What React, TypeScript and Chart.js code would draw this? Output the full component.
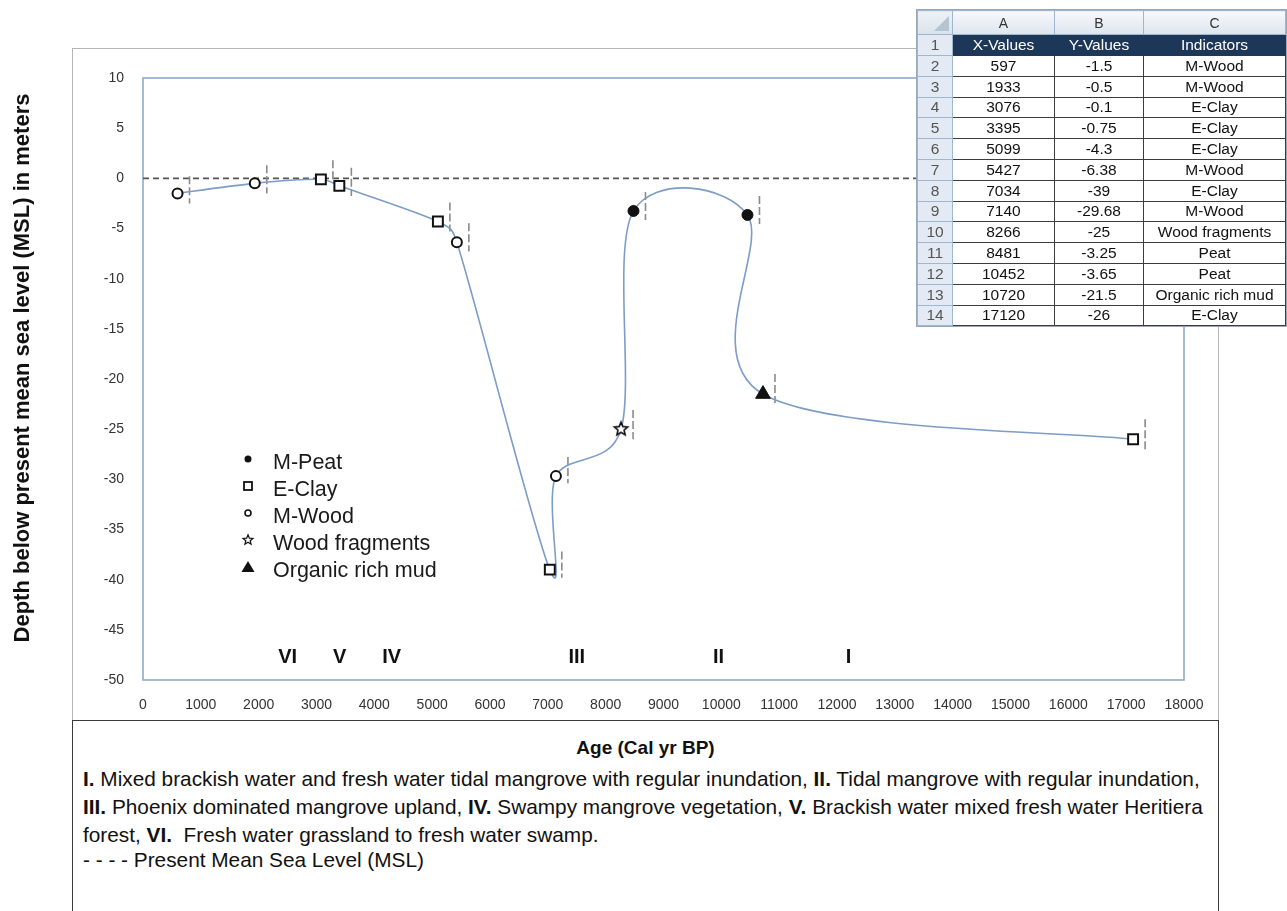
import React, { useEffect, useRef } from "react";
import { Chart, registerables } from "chart.js";

Chart.register(...registerables);

// ---------------- data ----------------
const ageValues = [597, 1933, 3076, 3395, 5099, 5427, 7034, 7140, 8266, 8481, 10452, 10720, 17120];
const depthValues = [-1.5, -0.5, -0.1, -0.75, -4.3, -6.38, -39, -29.68, -25, -3.25, -3.65, -21.5, -26];
const indicatorValues = [
  "M-Wood", "M-Wood", "E-Clay", "E-Clay", "E-Clay", "M-Wood", "E-Clay",
  "M-Wood", "Wood fragments", "Peat", "Peat", "Organic rich mud", "E-Clay",
];
// dashed error bars (metres above / below each point)
const errorAbove = [1.7, 1.8, 1.9, 1.8, 1.9, 1.9, 1.8, 1.9, 1.9, 1.9, 1.9, 2.0, 2.0];
const errorBelow = [1.0, 1.0, 0.4, 1.0, 1.0, 0.9, 0.8, 0.7, 1.0, 0.9, 0.9, 0.9, 1.0];

const legendLabels = ["M-Peat", "E-Clay", "M-Wood", "Wood fragments", "Organic rich mud"];
const legendKinds = ["Peat", "E-Clay", "M-Wood", "Wood fragments", "Organic rich mud"];

const zoneLabels = ["VI", "V", "IV", "III", "II", "I"];
const zoneAges = [2500, 3400, 4300, 7500, 9950, 12200];
const zoneDepth = -47.8;

const mslDepth = 0;
const xMin = 0, xMax = 18000, xStep = 1000;
const yMin = -50, yMax = 10, yStep = 5;

const tableHeaders = ["X-Values", "Y-Values", "Indicators"];
const tableColumnLetters = ["A", "B", "C"];

const yTitle = "Depth below present mean sea level (MSL) in meters";
const xTitle = "Age (Cal yr BP)";

// ---------------- styles ----------------
const FONT = 'Arial, "Liberation Sans", sans-serif';
const LINE_COLOR = "#7d9dc7";
const FRAME_COLOR = "#8eaacb";

function starPath(g: CanvasRenderingContext2D, cx: number, cy: number, outer: number, inner: number) {
  g.beginPath();
  for (let i = 0; i < 10; i++) {
    const r = i % 2 ? inner : outer;
    const a = -Math.PI / 2 + (i * Math.PI) / 5;
    const px = cx + r * Math.cos(a);
    const py = cy + r * Math.sin(a);
    if (i === 0) g.moveTo(px, py);
    else g.lineTo(px, py);
  }
  g.closePath();
}

function makeStar(size: number, outer: number, inner: number, lw: number) {
  const c = document.createElement("canvas");
  c.width = size;
  c.height = size;
  const g = c.getContext("2d")!;
  starPath(g, size / 2, size / 2, outer, inner);
  g.fillStyle = "#fff";
  g.fill();
  g.lineWidth = lw;
  g.strokeStyle = "#111";
  g.stroke();
  return c;
}

function markerFor(kind: string, star: HTMLCanvasElement) {
  switch (kind) {
    case "M-Wood":
      return { style: "circle" as any, r: 5, fill: "#fff", lw: 2 };
    case "E-Clay":
      return { style: "rect" as any, r: 7, fill: "#fff", lw: 2 };
    case "Peat":
      return { style: "circle" as any, r: 5.5, fill: "#111", lw: 1 };
    case "Organic rich mud":
      return { style: "triangle" as any, r: 8.5, fill: "#111", lw: 1 };
    default:
      return { style: star as any, r: 6, fill: "#fff", lw: 1.5 };
  }
}

function drawLegendSymbol(g: CanvasRenderingContext2D, kind: string, x: number, y: number) {
  g.save();
  g.strokeStyle = "#111";
  g.fillStyle = "#111";
  g.setLineDash([]);
  if (kind === "Peat") {
    g.beginPath();
    g.arc(x, y, 3.5, 0, Math.PI * 2);
    g.fill();
  } else if (kind === "E-Clay") {
    g.lineWidth = 1.8;
    g.strokeRect(x - 4, y - 4, 8, 8);
  } else if (kind === "M-Wood") {
    g.lineWidth = 1.6;
    g.beginPath();
    g.arc(x, y, 3, 0, Math.PI * 2);
    g.stroke();
  } else if (kind === "Wood fragments") {
    g.lineWidth = 1.2;
    starPath(g, x, y, 5.2, 2.3);
    g.stroke();
  } else {
    g.beginPath();
    g.moveTo(x, y - 6);
    g.lineTo(x + 6.5, y + 5);
    g.lineTo(x - 6.5, y + 5);
    g.closePath();
    g.fill();
  }
  g.restore();
}

// Excel-style smoothing: Catmull-Rom control points (1/6 of neighbour span),
// each control arm limited to half of its own segment length.
const smoothPlugin = {
  id: "excelSmooth",
  beforeDatasetsDraw(chart: any) {
    const meta = chart.getDatasetMeta(0);
    const line: any = meta.dataset;
    if (!line) return;
    if (typeof line.updateControlPoints === "function") line.updateControlPoints(chart.chartArea, "x");
    const pts = meta.data as any[];
    const n = pts.length;
    for (let i = 0; i < n; i++) {
      const p = pts[i];
      const prev = pts[Math.max(0, i - 1)];
      const next = pts[Math.min(n - 1, i + 1)];
      const tx = (next.x - prev.x) / 6;
      const ty = (next.y - prev.y) / 6;
      const tl = Math.hypot(tx, ty) || 1;
      const dPrev = Math.hypot(p.x - prev.x, p.y - prev.y);
      const dNext = Math.hypot(next.x - p.x, next.y - p.y);
      const kb = Math.min(1, (0.5 * dPrev) / tl);
      const kf = Math.min(1, (0.5 * dNext) / tl);
      p.cp1x = p.x - tx * kb;
      p.cp1y = p.y - ty * kb;
      p.cp2x = p.x + tx * kf;
      p.cp2y = p.y + ty * kf;
    }
    line._path = undefined;
  },
};

const decorPlugin = {
  id: "decor",
  beforeDatasetsDraw(chart: any) {
    const { ctx, chartArea: a, scales } = chart;
    const xs = scales.x, ys = scales.y;
    ctx.save();
    // plot frame
    ctx.strokeStyle = FRAME_COLOR;
    ctx.lineWidth = 1.6;
    ctx.strokeRect(a.left, a.top, a.right - a.left, a.bottom - a.top);
    // present mean sea level
    const y0 = ys.getPixelForValue(mslDepth);
    ctx.strokeStyle = "#555";
    ctx.lineWidth = 1.6;
    ctx.setLineDash([6, 4]);
    ctx.beginPath();
    ctx.moveTo(a.left, y0);
    ctx.lineTo(a.right, y0);
    ctx.stroke();
    // error bars
    ctx.strokeStyle = "#8a8a8a";
    ctx.lineWidth = 1.6;
    ctx.setLineDash([8, 3]);
    ageValues.forEach((age, i) => {
      const px = xs.getPixelForValue(age) + 12;
      const top = ys.getPixelForValue(depthValues[i] + errorAbove[i]);
      const bot = ys.getPixelForValue(depthValues[i] - errorBelow[i]);
      ctx.beginPath();
      ctx.moveTo(px, top);
      ctx.lineTo(px, bot);
      ctx.stroke();
    });
    ctx.restore();
  },
  afterDraw(chart: any) {
    const { ctx, scales } = chart;
    const xs = scales.x, ys = scales.y;
    ctx.save();
    // y axis title
    ctx.translate(23, 368);
    ctx.rotate(-Math.PI / 2);
    ctx.font = `bold 22px ${FONT}`;
    ctx.fillStyle = "#111";
    ctx.textAlign = "center";
    ctx.textBaseline = "middle";
    ctx.fillText(yTitle, 0, 0);
    ctx.restore();

    // zone numerals
    ctx.save();
    ctx.font = `bold 20px ${FONT}`;
    ctx.fillStyle = "#111";
    ctx.textAlign = "center";
    ctx.textBaseline = "middle";
    zoneLabels.forEach((lab, i) => {
      ctx.fillText(lab, xs.getPixelForValue(zoneAges[i]), ys.getPixelForValue(zoneDepth));
    });
    ctx.restore();

    // legend
    ctx.save();
    ctx.font = `21.5px ${FONT}`;
    ctx.fillStyle = "#1a1a1a";
    ctx.textAlign = "left";
    ctx.textBaseline = "middle";
    legendLabels.forEach((lab, i) => {
      const y = 463 + i * 27;
      drawLegendSymbol(ctx, legendKinds[i], 248, y - 4);
      ctx.fillText(lab, 273, y);
    });
    ctx.restore();
  },
};

function ChartCanvas() {
  const ref = useRef<HTMLCanvasElement>(null);
  useEffect(() => {
    const star = makeStar(18, 7, 3.2, 1.6);
    const markers = indicatorValues.map((k) => markerFor(k, star));
    const chart = new Chart(ref.current!, {
      type: "scatter",
      data: {
        datasets: [
          {
            data: ageValues.map((x, i) => ({ x, y: depthValues[i] })),
            showLine: true,
            tension: 0.4,
            borderColor: LINE_COLOR,
            borderWidth: 1.6,
            pointStyle: markers.map((m) => m.style),
            pointRadius: markers.map((m) => m.r),
            pointBackgroundColor: markers.map((m) => m.fill),
            pointBorderColor: "#111",
            pointBorderWidth: markers.map((m) => m.lw),
          } as any,
        ],
      },
      options: {
        responsive: false,
        animation: false,
        layout: { padding: { left: 0, top: 78, right: 103, bottom: 191 } },
        plugins: { legend: { display: false }, tooltip: { enabled: false } },
        scales: {
          x: {
            type: "linear",
            min: xMin,
            max: xMax,
            grid: { display: false, drawTicks: false },
            border: { display: false },
            ticks: {
              stepSize: xStep,
              padding: 17,
              color: "#333",
              font: { family: FONT, size: 14 },
              callback: (v: any) => String(v),
            },
            afterFit: (s: any) => {
              s.height = 40;
            },
          },
          y: {
            type: "linear",
            min: yMin,
            max: yMax,
            grid: { display: false, drawTicks: false },
            border: { display: false },
            ticks: {
              stepSize: yStep,
              padding: 19,
              color: "#333",
              font: { family: FONT, size: 14 },
              callback: (v: any) => String(v),
            },
            afterFit: (s: any) => {
              s.width = 143;
            },
          },
        },
      },
      plugins: [smoothPlugin, decorPlugin],
    });
    return () => chart.destroy();
  }, []);
  return <canvas ref={ref} width={1287} height={911} style={{ position: "absolute", left: 0, top: 0 }} />;
}

const cellBorder = "1px solid #3c3c3c";
const rowHeadStyle: React.CSSProperties = {
  background: "#e3eaf4",
  border: "1px solid #9eb6ce",
  textAlign: "center",
  color: "#555",
  padding: 0,
};

function DataTable() {
  const rowH = 20.8;
  return (
    <table
      style={{
        position: "absolute",
        left: 917,
        top: 10,
        width: 368,
        borderCollapse: "collapse",
        tableLayout: "fixed",
        fontFamily: FONT,
        fontSize: 15.5,
        background: "#fff",
        boxShadow: "0 0 0 1px #9aa7b6",
      }}
    >
      <colgroup>
        <col style={{ width: 35 }} />
        <col style={{ width: 102 }} />
        <col style={{ width: 89 }} />
        <col style={{ width: 142 }} />
      </colgroup>
      <tbody>
        <tr style={{ height: 24 }}>
          <td
            style={{
              background: "linear-gradient(#eef2f7,#d9e2ec)",
              border: "1px solid #9eb6ce",
              position: "relative",
              padding: 0,
            }}
          >
            <div
              style={{
                position: "absolute",
                right: 3,
                bottom: 3,
                width: 0,
                height: 0,
                borderLeft: "15px solid transparent",
                borderBottom: "15px solid #b5c3d3",
              }}
            />
          </td>
          {tableColumnLetters.map((c) => (
            <td
              key={c}
              style={{
                background: "linear-gradient(#f7f9fc,#dde5ee)",
                border: "1px solid #9eb6ce",
                textAlign: "center",
                color: "#333",
                padding: 0,
                fontSize: 14,
              }}
            >
              {c}
            </td>
          ))}
        </tr>
        <tr style={{ height: 21 }}>
          <td style={rowHeadStyle}>1</td>
          {tableHeaders.map((h) => (
            <td
              key={h}
              style={{ background: "#1d3759", color: "#fff", border: "1px solid #1d3759", textAlign: "center", padding: 0 }}
            >
              {h}
            </td>
          ))}
        </tr>
        {ageValues.map((age, i) => (
          <tr key={i} style={{ height: rowH }}>
            <td style={rowHeadStyle}>{i + 2}</td>
            <td style={{ border: cellBorder, textAlign: "center", color: "#111", padding: 0 }}>{age}</td>
            <td style={{ border: cellBorder, textAlign: "center", color: "#111", padding: 0 }}>{String(depthValues[i])}</td>
            <td style={{ border: cellBorder, textAlign: "center", color: "#111", padding: 0, whiteSpace: "nowrap" }}>
              {indicatorValues[i]}
            </td>
          </tr>
        ))}
      </tbody>
    </table>
  );
}

function Caption() {
  return (
    <div
      style={{
        position: "absolute",
        left: 72,
        top: 720,
        width: 1147,
        height: 220,
        boxSizing: "border-box",
        border: "1.5px solid #3a3a3a",
        background: "#fff",
        fontFamily: FONT,
        color: "#111",
        padding: "13px 0 0 10px",
      }}
    >
      <div style={{ textAlign: "center", fontWeight: "bold", fontSize: 19, lineHeight: "28px", marginLeft: -10 }}>{xTitle}</div>
      <div style={{ fontSize: 20.8, lineHeight: "28px", whiteSpace: "nowrap", marginTop: 3 }}>
        <div>
          <b>I.</b> Mixed brackish water and fresh water tidal mangrove with regular inundation, <b>II.</b> Tidal mangrove with
          regular inundation,
        </div>
        <div>
          <b>III.</b> Phoenix dominated mangrove upland, <b>IV.</b> Swampy mangrove vegetation, <b>V.</b> Brackish water mixed
          fresh water Heritiera
        </div>
        <div>
          forest, <b>VI.</b>&nbsp; Fresh water grassland to fresh water swamp.
        </div>
      </div>
      <div style={{ fontSize: 20.8, lineHeight: "22px", whiteSpace: "nowrap" }}>- - - - Present Mean Sea Level (MSL)</div>
    </div>
  );
}

export default function App() {
  return (
    <div
      style={{
        position: "absolute",
        left: 0,
        top: 0,
        width: 1287,
        height: 911,
        overflow: "hidden",
        background: "#fff",
      }}
    >
      <div
        style={{
          position: "absolute",
          left: 72,
          top: 48,
          width: 1147,
          height: 673,
          boxSizing: "border-box",
          border: "1px solid #b5b5b5",
        }}
      />
      <ChartCanvas />
      <Caption />
      <DataTable />
    </div>
  );
}
